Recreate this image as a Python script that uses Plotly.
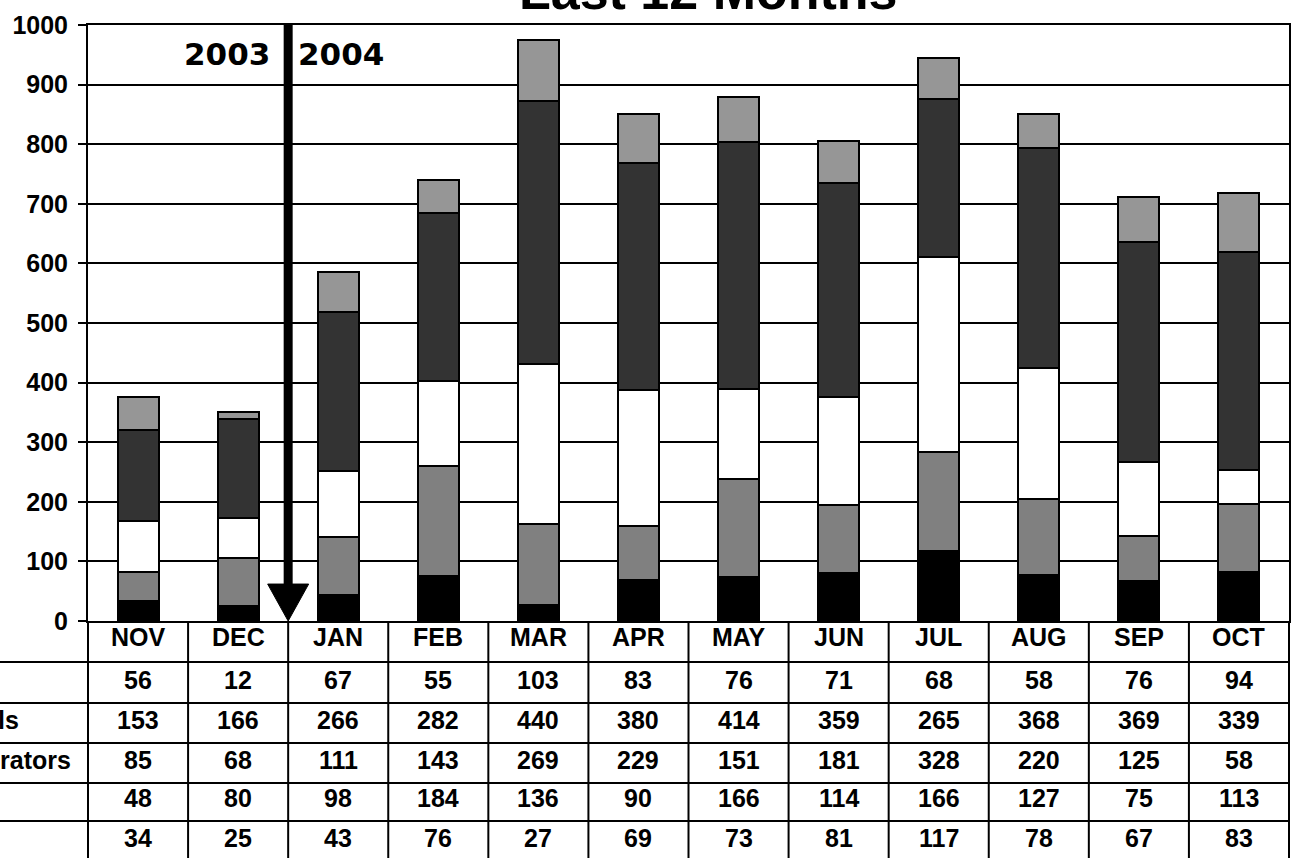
import plotly.graph_objects as go

months = ["NOV", "DEC", "JAN", "FEB", "MAR", "APR", "MAY", "JUN", "JUL", "AUG", "SEP", "OCT"]
# table rows, top to bottom (= stack segments, top to bottom)
row1_top = [56, 12, 67, 55, 103, 83, 76, 71, 68, 58, 76, 94]
row2_dark = [153, 166, 266, 282, 440, 380, 414, 359, 265, 368, 369, 339]
row3_white = [85, 68, 111, 143, 269, 229, 151, 181, 328, 220, 125, 58]
row4_gray = [48, 80, 98, 184, 136, 90, 166, 114, 166, 127, 75, 113]
row5_black = [34, 25, 43, 76, 27, 69, 73, 81, 117, 78, 67, 83]
row_labels = ["", "ls", "rators", "", ""]
y_ticks = list(range(0, 1001, 100))

# bar heights as drawn in the chart (OCT bar differs from its table column)
bar_top = [56, 12, 67, 55, 103, 83, 76, 71, 68, 58, 76, 99]
bar_dark = [153, 166, 266, 282, 440, 380, 414, 359, 265, 368, 369, 365]

table_rows = [row1_top, row2_dark, row3_white, row4_gray, row5_black]
bar_rows = [bar_top, bar_dark, row3_white, row4_gray, row5_black]
colors = ["#969696", "#333333", "#ffffff", "#808080", "#000000"]

W, H = 1295, 858
ML, MR, MT, MB = 88, 6, 25, 237
PW = W - ML - MR
PH = H - MT - MB
BOTTOM_PX = MT + PH


def py(p):
    return (BOTTOM_PX - p) / PH


def px(p):
    return (p - ML) / PW


FONT = "Liberation Sans, Arial, sans-serif"

fig = go.Figure()
# stack bottom to top
for vals, col, name in reversed(list(zip(bar_rows, colors, ["r1", "r2", "r3", "r4", "r5"]))):
    fig.add_trace(go.Bar(
        x=months, y=vals, name=name, marker=dict(color=col, line=dict(color="black", width=2)),
        width=0.41, showlegend=False,
    ))

fig.update_layout(
    barmode="stack",
    width=W, height=H,
    margin=dict(l=ML, r=MR, t=MT, b=MB, autoexpand=False),
    plot_bgcolor="white", paper_bgcolor="white",
    font=dict(family=FONT, color="black"),
)
fig.update_xaxes(
    type="category", range=[-0.5, 11.5], showticklabels=False, ticks="",
    showline=True, linecolor="black", linewidth=2, mirror=True, showgrid=False,
    automargin=False,
)
fig.update_yaxes(
    range=[0, 1000], tickvals=y_ticks, showgrid=True, gridcolor="black", gridwidth=2,
    showline=True, linecolor="black", linewidth=2, mirror=True,
    ticks="outside", ticklen=8, tickwidth=2, tickcolor="black",
    tickfont=dict(family=FONT, size=25, weight="bold", color="black"),
    ticklabelstandoff=5, zeroline=False, automargin=False,
)

shapes = []
# table horizontal lines
for p in [662, 703, 743, 783, 821]:
    shapes.append(dict(type="line", xref="paper", yref="paper", x0=px(0), x1=1.0,
                       y0=py(p), y1=py(p), line=dict(color="black", width=2)))
# table vertical lines
for k in range(13):
    shapes.append(dict(type="line", xref="paper", yref="paper", x0=k / 12, x1=k / 12,
                       y0=0, y1=py(H + 5), line=dict(color="black", width=2)))
# year divider arrow
xa = 2 / 12
shapes.append(dict(type="line", xref="paper", yref="y", x0=xa, x1=xa, y0=1000, y1=55,
                   line=dict(color="black", width=9)))
hw = 20.5 / PW
shapes.append(dict(type="path", xref="paper", yref="y",
                   path=f"M {xa - hw},62 L {xa + hw},62 L {xa},0 Z",
                   fillcolor="black", line=dict(color="black", width=1)))
fig.update_layout(shapes=shapes)

ann = []
# title (partly off canvas, as in the source)
ann.append(dict(text="Last 12 Months", xref="paper", yref="paper", x=px(708.5), y=py(-9),
                xanchor="center", yanchor="middle", showarrow=False,
                font=dict(family=FONT, size=52, weight="bold", color="black")))
# year labels
yfont = dict(family="DejaVu Sans", size=31, weight=900, color="black")
ann.append(dict(text="2003", xref="paper", yref="y", x=px(272), y=951, xanchor="right",
                yanchor="middle", showarrow=False, font=yfont))
ann.append(dict(text="2004", xref="paper", yref="y", x=px(296), y=951, xanchor="left",
                yanchor="middle", showarrow=False, font=yfont))
tfont = dict(family=FONT, size=25, weight="bold", color="black")
# month header
for m in months:
    ann.append(dict(text=m, xref="x", yref="paper", x=m, y=py(637), xanchor="center",
                    yanchor="middle", showarrow=False, font=tfont))
row_centers = [680, 720, 760, 798, 838]
for vals, yc, lab in zip(table_rows, row_centers, row_labels):
    for m, v in zip(months, vals):
        ann.append(dict(text=str(v), xref="x", yref="paper", x=m, y=py(yc), xanchor="center",
                        yanchor="middle", showarrow=False, font=tfont))
    if lab:
        right = {"ls": 21, "rators": 73}[lab]
        ann.append(dict(text=lab, xref="paper", yref="paper", x=px(right), y=py(yc),
                        xanchor="right", yanchor="middle", showarrow=False, font=tfont))
fig.update_layout(annotations=ann)

fig.write_html(
    "out.html",
    config={"displayModeBar": False},
    post_script="document.body.style.margin='0px';document.body.style.overflow='hidden';",
)
